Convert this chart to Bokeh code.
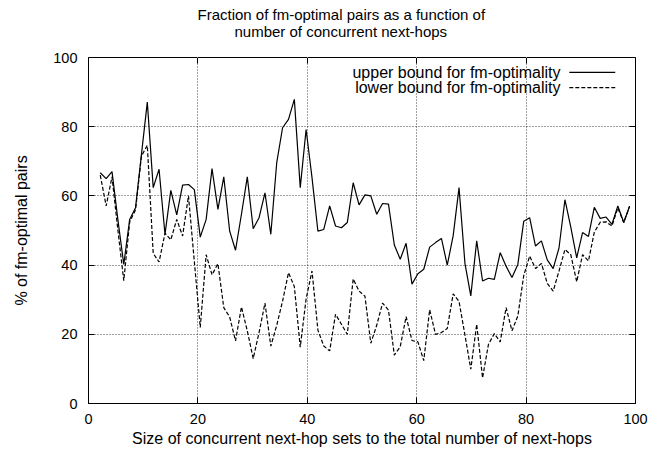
from bokeh.plotting import figure
from bokeh.models import LinearAxis, FixedTicker, Label, Range1d, Title
from bokeh.embed import file_html
from bokeh.resources import INLINE

# ---- data ----
x = [2.15, 3.23, 4.30, 5.38, 6.45, 7.53, 8.60, 9.68, 10.75, 11.83,
     12.90, 13.98, 15.05, 16.13, 17.20, 18.28, 19.35, 20.43, 21.51, 22.58,
     23.66, 24.73, 25.81, 26.88, 27.96, 29.03, 30.11, 31.18, 32.26, 33.33,
     34.41, 35.48, 36.56, 37.63, 38.71, 39.78, 40.86, 41.94, 43.01, 44.09,
     45.16, 46.24, 47.31, 48.39, 49.46, 50.54, 51.61, 52.69, 53.76, 54.84,
     55.91, 56.99, 58.06, 59.14, 60.22, 61.29, 62.37, 63.44, 64.52, 65.59,
     66.67, 67.74, 68.82, 69.89, 70.97, 72.04, 73.12, 74.19, 75.27, 76.34,
     77.42, 78.49, 79.57, 80.65, 81.72, 82.80, 83.87, 84.95, 86.02, 87.10,
     88.17, 89.25, 90.32, 91.40, 92.47, 93.55, 94.62, 95.70, 96.77, 97.85,
     98.92]

upper = [66.7, 65.0, 67.0, 53.0, 40.2, 53.2, 56.6, 72.0, 87.1, 62.4,
         67.7, 48.9, 61.6, 54.5, 63.1, 63.3, 61.8, 48.1, 53.2, 67.9,
         56.1, 65.5, 49.8, 44.3, 54.7, 65.5, 50.5, 53.7, 60.9, 48.9,
         69.6, 79.7, 82.1, 87.9, 62.4, 79.2, 65.3, 49.8, 50.3, 57.1,
         51.3, 50.8, 52.3, 63.8, 57.4, 60.3, 60.0, 54.7, 57.8, 57.6,
         45.8, 41.7, 46.3, 34.5, 37.5, 38.8, 45.2, 46.5, 47.7, 40.0,
         48.5, 62.4, 40.5, 31.1, 47.0, 35.4, 36.2, 35.9, 43.6, 39.7,
         36.4, 40.2, 52.7, 53.7, 45.5, 47.0, 41.5, 39.0, 45.0, 58.9,
         51.0, 42.1, 49.4, 48.3, 56.7, 53.5, 53.9, 51.8, 57.1, 52.3,
         57.0]

lower = [66.0, 57.1, 65.5, 50.0, 35.5, 52.5, 56.0, 71.5, 74.6, 43.4,
         40.9, 49.2, 47.3, 53.2, 48.4, 60.0, 41.0, 22.0, 43.0, 37.2,
         40.4, 27.7, 25.0, 18.1, 27.9, 21.0, 13.0, 20.5, 29.0, 16.6,
         22.6, 29.6, 37.8, 33.8, 16.3, 30.2, 38.3, 21.2, 16.6, 15.2,
         25.8, 22.9, 20.0, 36.0, 32.5, 31.0, 17.4, 22.6, 29.0, 27.0,
         14.0, 16.4, 25.1, 18.2, 17.8, 12.4, 27.1, 20.0, 20.5, 21.7,
         31.7, 29.5, 19.8, 9.9, 22.9, 7.4, 17.1, 20.2, 17.8, 27.7,
         21.0, 25.3, 37.0, 42.6, 39.0, 40.5, 34.7, 32.5, 38.3, 44.5,
         43.0, 35.2, 43.0, 41.2, 49.5, 52.4, 52.5, 51.3, 56.5, 52.3,
         57.0]

x_ticks = [0, 20, 40, 60, 80, 100]
y_ticks = [0, 20, 40, 60, 80, 100]

title_lines = ["Fraction of fm-optimal pairs as a function of",
               "number of concurrent next-hops"]
x_label = "Size of concurrent next-hop sets to the total number of next-hops"
y_label = "% of fm-optimal pairs"
series_names = ["upper bound for fm-optimality", "lower bound for fm-optimality"]

FONT = "Liberation Sans"
FS_TICK = "14.5px"
FS_LABEL = "16px"
FS_TITLE = "15px"
FS_LEGEND = "16px"
DASH = "4 2"

p = figure(width=672, height=453, title=None,
           x_range=Range1d(0, 100), y_range=Range1d(0, 100),
           output_backend="svg", toolbar_location=None,
           min_border_left=88, min_border_right=37,
           min_border_top=57, min_border_bottom=50)
p.background_fill_color = "white"
p.border_fill_color = "white"
p.outline_line_color = "black"
p.outline_line_width = 1

def style_axis(ax, ticks, show_labels=True):
    ax.ticker = FixedTicker(ticks=ticks)
    ax.axis_line_color = "black"
    ax.axis_line_width = 1
    ax.major_tick_in = 6
    ax.major_tick_out = 0
    ax.major_tick_line_color = "black"
    ax.minor_tick_line_color = None
    ax.major_label_text_font = FONT
    if show_labels:
        ax.major_label_text_font_size = FS_TICK
        ax.major_label_text_color = "black"
    else:
        ax.major_label_text_font_size = "1px"
        ax.major_label_text_color = None
        ax.major_label_standoff = 0
    ax.axis_label_text_font = FONT
    ax.axis_label_text_font_size = FS_LABEL
    ax.axis_label_text_font_style = "normal"
    ax.axis_label_text_color = "black"

style_axis(p.xaxis[0], x_ticks)
style_axis(p.yaxis[0], y_ticks)
p.xaxis[0].axis_label = x_label
p.yaxis[0].axis_label = y_label
p.xaxis[0].major_label_standoff = 10
p.xaxis[0].axis_label_standoff = 3
p.yaxis[0].major_label_standoff = 11
p.yaxis[0].axis_label_standoff = 20

# mirrored ticks on top and right
top = LinearAxis()
style_axis(top, x_ticks, show_labels=False)
p.add_layout(top, "above")
right = LinearAxis()
style_axis(right, y_ticks, show_labels=False)
p.add_layout(right, "right")

# invisible spacer between the frame and the title lines
spacer = LinearAxis()
style_axis(spacer, x_ticks, show_labels=False)
spacer.axis_line_color = None
spacer.major_tick_in = 0
spacer.major_tick_out = 18
spacer.major_tick_line_color = "white"
p.add_layout(spacer, "above")

for g, t in ((p.xgrid[0], x_ticks), (p.ygrid[0], y_ticks)):
    g.ticker = FixedTicker(ticks=t)
    g.grid_line_color = "black"
    g.grid_line_dash = "1 2"
    g.grid_line_width = 1
    g.grid_line_alpha = 0.75

p.line(x, upper, line_color="black", line_width=1.2)
p.line(x, lower, line_color="black", line_width=1.2, line_dash=DASH)

# title: two lines above the frame (second line added first = nearer frame)
t2 = Title(text=title_lines[1], align="left", offset=146, standoff=0,
           text_font=FONT, text_font_size=FS_TITLE, text_font_style="normal",
           text_color="black")
p.add_layout(t2, "above")
t1 = Title(text=title_lines[0], align="left", offset=109, standoff=-4,
           text_font=FONT, text_font_size=FS_TITLE, text_font_style="normal",
           text_color="black")
p.add_layout(t1, "above")

# legend: text right-aligned, sample line to its right (gnuplot style)
leg_y = [95.7, 91.3]
for name, ly, dash in zip(series_names, leg_y, ["solid", DASH]):
    p.add_layout(Label(x=86.3, y=ly, text=name, text_align="right",
                       text_baseline="middle", text_font=FONT,
                       text_font_size=FS_LEGEND, text_color="black"))
    p.line([87.9, 96.3], [ly, ly], line_color="black", line_width=1.2,
           line_dash=dash)

open("out.html", "w").write(file_html(p, INLINE))
